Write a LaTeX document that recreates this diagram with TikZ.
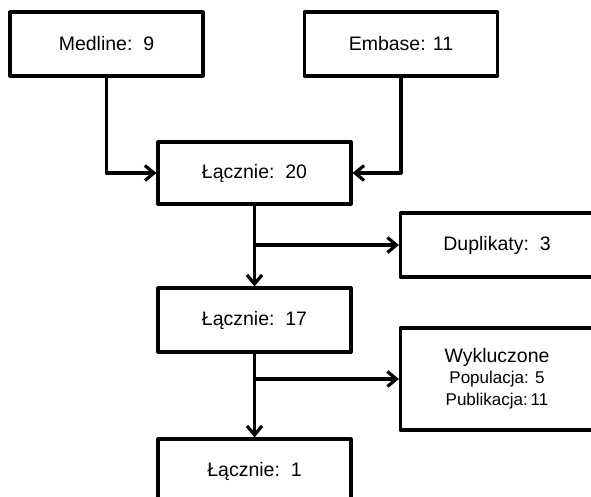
\documentclass[tikz,border=0pt]{standalone}
\usepackage{fontspec}
\setmainfont{Liberation Sans}
\usetikzlibrary{arrows.meta}
\begin{document}
\begin{tikzpicture}[x=1pt, y=-1pt, line cap=round, line join=round,
    box/.style={draw, line width=3.2pt, minimum width=193pt, minimum height=64pt,
      inner sep=0pt, font=\fontsize{19.5}{22}\selectfont, align=center},
    flow/.style={line width=3.2pt, -{Straight Barb[length=9pt, width=15pt, line width=3.2pt]}}]
    \useasboundingbox (0,0) rectangle (591,496);
    % sources
    \node[box] (med) at (106.5,44) {Medline:\ \ 9};
    \node[box] (emb) at (401,44) {Embase: 11};
    % main column
    \node[box, minimum height=62pt] (l20) at (254.5,173) {Łącznie:\ \ 20};
    \node[box] (l17) at (254.5,320) {Łącznie:\ \ 17};
    \node[box] (l1) at (254.5,471) {Łącznie:\ \ 1};
    % side boxes
    \node[box] (dup) at (497,245) {Duplikaty:\ \ 3};
    \node[box, minimum height=102pt] (wyk) at (497,379)
      {Wykluczone\\[-1pt]{\fontsize{17}{20}\selectfont Populacja: 5}\\[0pt]
       {\fontsize{17}{20}\selectfont Publikacja:\,11}};
    \draw[flow] (med.south) |- (l20.west);
    \draw[flow] (emb.south) |- (l20.east);
    \draw[flow] (l20) -- (l17);
    \draw[flow] (l20.south |- dup.west) -- (dup.west);
    \draw[flow] (l17) -- (l1);
    \draw[flow] (l17.south |- wyk.west) -- (wyk.west);
  \end{tikzpicture}
\end{document}
